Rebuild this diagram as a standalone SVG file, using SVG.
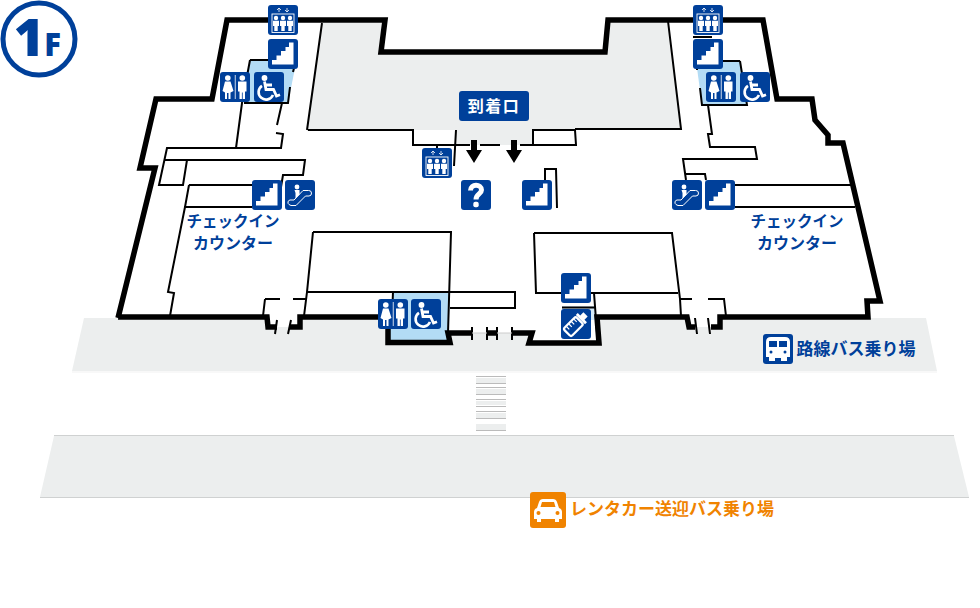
<svg xmlns="http://www.w3.org/2000/svg" width="980" height="608" viewBox="0 0 980 608">
<style>
.wall{fill:none;stroke:#000;stroke-width:5.5;stroke-linejoin:miter}
.thin{fill:none;stroke:#000;stroke-width:2}
.band{fill:#eceeee;stroke:none}
.edge{stroke:#cfd1d1;stroke-width:1.2;fill:none}
.ico{fill:#00409a}
.w{fill:#fff}
.ws{fill:none;stroke:#fff}
.lab{font-family:"Noto Sans CJK JP","Noto Sans",sans-serif;font-weight:700;fill:#00409a;text-anchor:middle}
</style>
<defs>
<symbol id="stairs" viewBox="0 0 30 30"><rect width="30" height="30" rx="3" class="ico"/><path class="w" d="M4 25.500V21H8.500V16.500H13V12H17.500V8H21V3.500H25.500V25.500Z"/></symbol>
<symbol id="elev" viewBox="0 0 30 30"><rect width="30" height="30" rx="3" class="ico"/>
<path class="ws" stroke-width=".8" d="M11 7V3M9 5L11 3L13 5M19 3V7M17 5L19 7L21 5"/>
<rect x="4" y="9" width="22" height="18.500" class="ws" stroke-width=".9"/>
<g id="pp"><circle cx="8" cy="13" r="2.200" class="w"/><path class="w" d="M5 15.800H11V21H9.700V26H6.300V21H5Z"/></g>
<use href="#pp" x="7"/><use href="#pp" x="14"/></symbol>
<symbol id="toilet" viewBox="0 0 30 30"><rect width="30" height="30" rx="3" class="ico"/>
<circle cx="7.800" cy="6" r="2.800" class="w"/><path class="w" d="M5 9.500H10.500L13.500 19L10.500 20.500V27H8.500V21H7V27H5V20.500L2.500 19Z"/>
<rect x="14.800" y="3" width=".8" height="24" class="w"/>
<circle cx="22.300" cy="6" r="2.800" class="w"/><path class="w" d="M18 9.500H26.500V19.500H25V27H22.700V20.500H21.900V27H19.500V19.500H18Z"/></symbol>
<symbol id="wheel" viewBox="0 0 30 30"><rect width="30" height="30" rx="3" class="ico"/>
<circle cx="10.500" cy="6" r="2.900" class="w"/>
<path class="ws" stroke-width="2.800" d="M10.500 9.500L12 17.500H19.500L22.500 24L26 22.800M11 13H18"/>
<path class="ws" stroke-width="2.600" d="M8 13.800A7.500 7.500 0 1 0 19 23"/></symbol>
<symbol id="esc" viewBox="0 0 30 30"><rect width="30" height="30" rx="3" class="ico"/>
<circle cx="12" cy="7" r="2.400" class="w"/><path class="w" d="M9.500 10H14.500V14.500L10.500 18.500V13Z"/>
<path class="ws" stroke-width="1" d="M4 24.500A2.500 2.500 0 0 1 5 20H9L18 10.500H23.500A2.700 2.700 0 0 1 24 16H20.500L11 25.500H6Z"/></symbol>
<symbol id="bottle" viewBox="0 0 30 30"><rect width="30" height="30" rx="3" class="ico"/>
<g transform="rotate(45 15 15)"><rect x="9.500" y="10" width="11" height="17.500" rx="2" class="ws" stroke-width="2.200"/><path class="w" d="M8.500 8.800H21.500V6H18V1.500H12V6H8.500Z"/><path class="ws" stroke-width="1.200" d="M10 13H14M10 16.500H14M10 20H14M10 23.500H14"/></g></symbol>
<symbol id="help" viewBox="0 0 30 30"><rect width="30" height="30" rx="3" class="ico"/>
<path class="ws" stroke-width="5" d="M9.500 10.500C9.500 3.500 20.500 3.500 20.500 10C20.500 14 15 14 15 19.500"/><rect x="12.300" y="21.800" width="5.400" height="5.400" rx="2" class="w"/></symbol>
<symbol id="arrow" viewBox="0 0 16 24"><path d="M5 0H11V10H16L8 23L0 10H5Z"/></symbol>
</defs>

<polygon class="band" points="84,318 926,318 937,371 72,371"/>
<path class="edge" style="stroke:#f1f2f2" d="M72 372H937"/>
<polygon class="band" points="54,436 954,436 969,497 40,497"/>
<path class="edge" d="M54 435.500H954M40 497.500H969"/>

<g id="crosswalk">
<rect x="476" y="378" width="30" height="5" fill="#eceeee"/><rect x="476" y="389" width="30" height="5" fill="#eceeee"/><rect x="476" y="401" width="30" height="4" fill="#eceeee"/><rect x="476" y="413" width="30" height="5" fill="#eceeee"/><rect x="476" y="424" width="30" height="6" fill="#eceeee"/>
<path stroke="#bbb" fill="none" d="M476 376.500H506M476 383.500H506M476 387.500H506M476 394.500H506M476 399.500H506M476 406.500H506M476 411.500H506M476 418.500H506M476 430.500H506"/>
</g>

<path id="floor" fill="#fff" d="M227 20L385 20L381 52H605L608 20H763L777 99H812L815 120L828 135V143H843L880 301H867L868 317H720V327H689L687 317H597L599 343H529L532 333H450L450 342H388L388 317H300V327H268L267 317H118L155 168H140L156 99H212Z"/>

<polygon id="arrival-hall" fill="#eceeee" points="322,23 381,23 381,52 605,52 608,23 668,23 681,129 575,129 533,130 533,145 456,145 456,130 307,130"/>
<polygon id="wc-nw" fill="#b3dcf5" points="250,60 272,60 295,68 288,103 244,103"/>
<polygon id="wc-ne" fill="#b3dcf5" points="697,68 715,61 740,61 747,105 702,105"/>
<polygon id="wc-s" fill="#b3dcf5" points="393,292 450,292 448,342 389,342 391,317"/>
<polygon id="nursing" fill="#d5eaf8" points="562,306 594,306 596,320 562,320"/>

<g id="connectors">
<path class="thin" d="M308 130H413V145H470M480 145H500M520 145H533V130H575L576 145H533M575 129H681L668 21M322 23L307 130M413 130V145M456 130L454 166M437 145V150"/>
<path class="thin" d="M250 60L242 103L236 148M294 68L293 72M290 87L288 103H244M250 60H272M282 103L277 125M276 133L283 134L281 148H167L159 185H183L187 160M165 160H305L303 175H283L281 187M189 185H252M189 185L185 207H252M185 207L168 292L174 293L170 316"/>
<path class="thin" d="M545 180V169H556L557 208"/>
<path class="thin" d="M313 232H451L448 333M313 232L307 292L304 316M307 292H515V308H450M393 292L392 317M265 299L263 316M265 299H280M293 299H306"/>
<path class="thin" d="M534 233H672L680 299L681 316M534 233L536 293H562M590 293H678M594 293L597 333M562 307.500H595"/>
<path class="thin" d="M680 299H692M708 299H724L726 316M740 61L747 105H702L700 88M697 70V68M708 105L712 134H708L710 147H755L757 159H683L686 180M686 174H705L706 180M735 185H852M735 207H855M715 61H740M693 37H712"/>
<path class="wall" d="M118 318L155 168H140L156 99H212L227 20H385L381 52H605L608 20H763L777 99H812L815 120L828 135V143H843L880 301H867L868 317H720V327H711M695 327H689L687 317H597L599 343H529L532 333H512M497 333H487M472 333H448L450 342.500H388L388 317H300V327H290M277 327H268L267 317H118"/>
<path class="thin" d="M277 320L275 334M291 320L288 334M695 318L697 334M708 318L710 334M472 327V340M487 327V340M497 327V340M512 327V340"/>
<path d="M472 333H487M497 333H512" stroke="#ccc" stroke-width="1" fill="none"/>
<use href="#arrow" x="466" y="140" width="16" height="24"/>
<use href="#arrow" x="506" y="140" width="16" height="24"/>
</g>

<g id="floor-badge">
<circle cx="39" cy="39" r="36" fill="#fff" stroke="#00409a" stroke-width="5"/>
<text x="29" y="56" font-family="'Open Sans','Noto Sans',sans-serif" font-weight="800" font-size="52" text-anchor="middle" fill="#00409a">1</text>
<text x="52.500" y="56" font-family="'Open Sans','Noto Sans',sans-serif" font-weight="800" font-size="31" text-anchor="middle" fill="#00409a">F</text>
</g>

<g id="n-elev-nw"><use href="#elev" x="268" y="5" width="30" height="30"/></g>
<g id="n-stairs-nw"><use href="#stairs" x="268" y="39" width="30" height="30"/></g>
<g id="n-toilet-nw"><use href="#toilet" x="220" y="72" width="30" height="30"/></g>
<g id="n-wheel-nw"><use href="#wheel" x="254" y="72" width="30" height="30"/></g>
<g id="n-stairs-w"><use href="#stairs" x="252" y="180" width="30" height="30"/></g>
<g id="n-esc-w"><use href="#esc" x="285" y="180" width="30" height="30"/></g>
<g id="n-elev-c"><use href="#elev" x="422" y="148" width="30" height="30"/></g>
<g id="n-help"><use href="#help" x="461" y="180" width="30" height="30"/></g>
<g id="n-stairs-c"><use href="#stairs" x="522" y="180" width="30" height="30"/></g>
<g id="n-elev-ne"><use href="#elev" x="693" y="5" width="30" height="30"/></g>
<g id="n-stairs-ne"><use href="#stairs" x="693" y="39" width="30" height="30"/></g>
<g id="n-toilet-ne"><use href="#toilet" x="706" y="72" width="30" height="30"/></g>
<g id="n-wheel-ne"><use href="#wheel" x="740" y="72" width="30" height="30"/></g>
<g id="n-esc-e"><use href="#esc" x="672" y="180" width="30" height="30"/></g>
<g id="n-stairs-e"><use href="#stairs" x="705" y="180" width="30" height="30"/></g>
<g id="n-toilet-s"><use href="#toilet" x="378" y="299" width="30" height="30"/></g>
<g id="n-wheel-s"><use href="#wheel" x="411" y="299" width="30" height="30"/></g>
<g id="n-stairs-s"><use href="#stairs" x="561" y="273" width="30" height="30"/></g>
<g id="n-bottle"><use href="#bottle" x="561" y="309" width="30" height="30"/></g>

<g id="n-arrival"><rect x="459" y="91" width="70" height="30" rx="3" fill="#00409a"/><text x="494" y="112" font-size="16" letter-spacing="1.500" class="lab" style="fill:#fff">到着口</text></g>
<g id="n-checkin-w"><text x="233" y="227" font-size="15.500" class="lab">チェックイン</text><text x="233" y="249" font-size="16" class="lab">カウンター</text></g>
<g id="n-checkin-e"><text x="797" y="227" font-size="15.500" class="lab">チェックイン</text><text x="797" y="249" font-size="16" class="lab">カウンター</text></g>

<g id="n-bus">
<rect x="763" y="334" width="30" height="30" rx="3" fill="#00409a"/>
<path class="w" d="M766 342Q766 337 771 337H785Q790 337 790 342V357H787V361H781V358H775V361H769V357H766Z"/>
<rect x="769" y="341" width="8" height="6" fill="#00409a"/><rect x="779" y="341" width="8" height="6" fill="#00409a"/>
<circle cx="771" cy="352" r="1.500" fill="#00409a"/><circle cx="785" cy="352" r="1.500" fill="#00409a"/>
<text x="856" y="355" font-size="17" class="lab">路線バス乗り場</text>
</g>
<g id="n-car">
<rect x="530" y="492" width="36" height="36" rx="3" fill="#f08300"/>
<path fill="#fff" d="M539 502Q540 499 543 499H553Q556 499 557 502L559 508Q562 509 562 512V519H559V522H555V519H541V522H537V519H534V512Q534 509 537 508Z"/>
<path fill="#f08300" d="M542 502H554L555.500 507H540.500Z"/><circle cx="538.500" cy="513" r="2" fill="#f08300"/><circle cx="557.500" cy="513" r="2" fill="#f08300"/>
<text x="672" y="515" font-size="17" class="lab" style="fill:#f08300">レンタカー送迎バス乗り場</text>
</g>
</svg>
